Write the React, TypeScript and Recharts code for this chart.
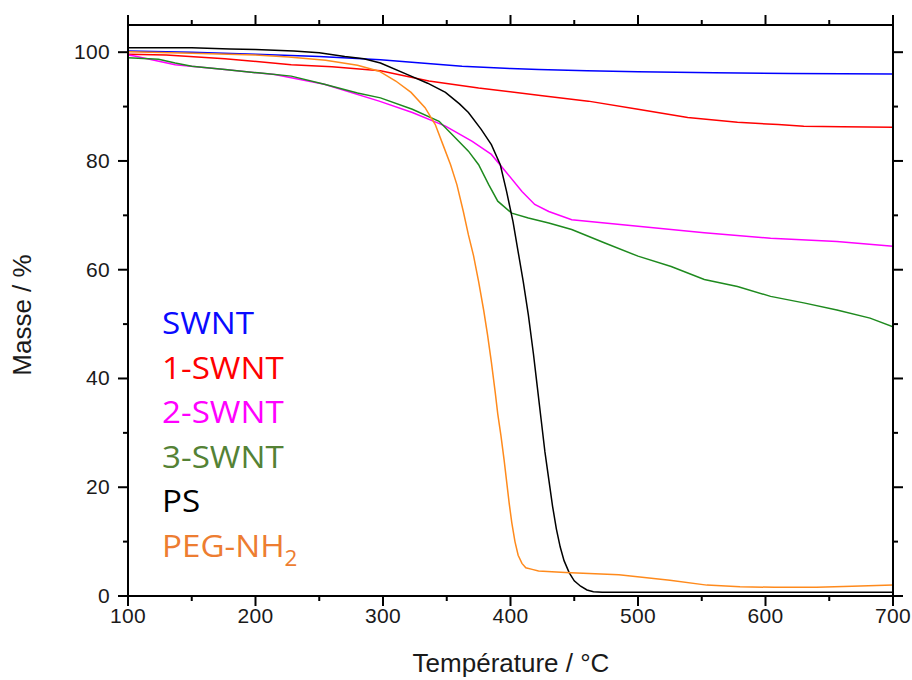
import React from "react";
import { LineChart, Line, XAxis, YAxis } from "recharts";

// TGA curves, mass (%) vs temperature (°C)
const swntT = [100, 150, 200, 250, 298, 330, 362, 400, 422, 460, 500, 560, 620, 700];
const swntM = [100.2, 100.0, 99.6, 99.2, 98.6, 98.0, 97.4, 97.0, 96.8, 96.6, 96.4, 96.2, 96.1, 96.0];

const swnt1T = [100, 130, 176, 228, 260, 298, 336, 375, 425, 461, 500, 539, 578, 610, 630, 660, 700];
const swnt1M = [99.6, 99.5, 98.8, 97.7, 97.3, 96.6, 94.7, 93.4, 92.0, 91.0, 89.5, 88.0, 87.1, 86.7, 86.4, 86.3, 86.2];

const swnt2T = [100, 105, 137, 176, 215, 254, 297, 323, 349, 370, 385, 396, 409, 419, 430, 448, 500, 552, 604, 656, 700];
const swnt2M = [99.5, 99.3, 97.7, 96.8, 95.9, 94.1, 91.0, 88.9, 86.4, 83.6, 81.2, 78.1, 74.4, 72.0, 70.7, 69.2, 68.0, 66.8, 65.8, 65.2, 64.3];

const swnt3T = [100, 124, 137, 150, 176, 202, 228, 254, 280, 298, 323, 344, 354, 367, 375, 383, 390, 401, 414, 430, 448, 474, 500, 526, 552, 578, 604, 630, 656, 682, 700];
const swnt3M = [99.0, 98.7, 98.0, 97.4, 96.8, 96.2, 95.6, 94.1, 92.5, 91.6, 89.5, 87.3, 84.9, 81.8, 79.3, 75.6, 72.6, 70.4, 69.5, 68.6, 67.4, 64.9, 62.5, 60.6, 58.2, 56.9, 55.1, 53.9, 52.6, 51.1, 49.5];

const psT = [100, 150, 180, 200, 230, 250, 270, 285, 298, 322, 335, 349, 360, 367, 377, 385, 392, 397, 402, 406, 410, 414, 418, 421, 424, 427, 430, 433, 436, 439, 442, 446, 450, 455, 460, 465, 472, 500, 600, 700];
const psM = [100.8, 100.8, 100.6, 100.5, 100.2, 99.9, 99.2, 98.8, 98.0, 95.6, 94.3, 92.6, 90.5, 88.9, 85.8, 83.0, 79.3, 74.3, 68.8, 63.3, 57.8, 51.7, 44.5, 38.5, 32.5, 26.5, 21.5, 16.5, 12.3, 9.0, 6.5, 4.3, 2.8, 1.8, 1.1, 0.8, 0.7, 0.7, 0.7, 0.7];

const pegT = [100, 150, 200, 226, 255, 280, 297, 310, 322, 333, 341, 347, 353, 358, 363, 367, 371, 375, 379, 382, 385, 388, 390, 392.5, 395, 397, 399, 401, 403.5, 406, 409, 412, 417, 422, 443, 485, 525, 554, 580, 607, 640, 668, 700];
const pegM = [100.1, 99.8, 99.5, 99.1, 98.5, 97.6, 96.5, 94.7, 92.6, 89.8, 86.7, 83.0, 79.3, 75.6, 70.7, 66.4, 62.6, 57.8, 52.5, 48.0, 43.0, 37.5, 33.5, 29.5, 25.0, 21.0, 17.0, 13.5, 10.0, 7.5, 6.0, 5.2, 4.9, 4.6, 4.3, 3.9, 2.9, 2.0, 1.7, 1.6, 1.6, 1.8, 2.0];

const xTicks = [100, 150, 200, 250, 300, 350, 400, 450, 500, 550, 600, 650, 700];
const yTicks = [0, 10, 20, 30, 40, 50, 60, 70, 80, 90, 100];

type Pt = { t: number; m: number };
const zip = (t: number[], m: number[]): Pt[] => t.map((v, i) => ({ t: v, m: m[i] }));

// the last series sits on the top/right axes (same domains) so the mirrored frame gets drawn
const series = [
  { key: "swnt", line: "#0000ff", data: zip(swntT, swntM), x: "bottom", y: "left" },
  { key: "swnt1", line: "#ff0000", data: zip(swnt1T, swnt1M), x: "bottom", y: "left" },
  { key: "swnt2", line: "#ff00ff", data: zip(swnt2T, swnt2M), x: "bottom", y: "left" },
  { key: "swnt3", line: "#1e8a1e", data: zip(swnt3T, swnt3M), x: "bottom", y: "left" },
  { key: "ps", line: "#000000", data: zip(psT, psM), x: "bottom", y: "left" },
  { key: "peg", line: "#ff8a1c", data: zip(pegT, pegM), x: "top", y: "right" },
];

const axisFont = "'Liberation Sans', Arial, sans-serif";
const textColor = "#1a1a1a";

function XTick(props: any) {
  const { x, y, payload, side } = props;
  const major = payload.value % 100 === 0;
  const len = major ? 10 : 5;
  const dir = side === "top" ? -1 : 1;
  return (
    <g>
      <line x1={x} x2={x} y1={y} y2={y + dir * len} stroke="#000" strokeWidth={2} />
      {side === "bottom" && major && (
        <text
          x={x}
          y={y + 27}
          textAnchor="middle"
          fontFamily={axisFont}
          fontSize={21}
          letterSpacing={0.3}
          fill={textColor}
        >
          {payload.value}
        </text>
      )}
    </g>
  );
}

function YTick(props: any) {
  const { x, y, payload, side } = props;
  const major = payload.value % 20 === 0;
  const len = major ? 10 : 5;
  const dir = side === "left" ? -1 : 1;
  return (
    <g>
      <line x1={x} x2={x + dir * len} y1={y} y2={y} stroke="#000" strokeWidth={2} />
      {side === "left" && major && (
        <text
          x={x - 18}
          y={y + 7}
          textAnchor="end"
          fontFamily={axisFont}
          fontSize={21}
          letterSpacing={0.3}
          fill={textColor}
        >
          {payload.value}
        </text>
      )}
    </g>
  );
}

const legend = [
  { label: "SWNT", color: "#0a0aff" },
  { label: "1-SWNT", color: "#ff0000" },
  { label: "2-SWNT", color: "#ff00ff" },
  { label: "3-SWNT", color: "#548235" },
  { label: "PS", color: "#000000" },
  { label: "PEG-NH", sub: "2", color: "#ed7d31" },
];

const frame = { stroke: "#000", strokeWidth: 2 };

export default function App() {
  return (
    <div style={{ position: "absolute", left: 0, top: 0, width: 912, height: 680, background: "#fff" }}>
      <LineChart width={912} height={680} margin={{ top: 24, right: 18, bottom: 44, left: 68 }}>
        <XAxis
          xAxisId="bottom"
          dataKey="t"
          type="number"
          domain={[100, 700]}
          allowDataOverflow
          ticks={xTicks}
          interval={0}
          height={40}
          tickSize={0}
          tickMargin={0}
          tickLine={false}
          stroke="#000"
          axisLine={frame}
          tick={<XTick side="bottom" />}
        />
        <XAxis
          xAxisId="top"
          orientation="top"
          dataKey="t"
          type="number"
          domain={[100, 700]}
          allowDataOverflow
          ticks={xTicks}
          interval={0}
          height={1}
          tickSize={0}
          tickMargin={0}
          tickLine={false}
          stroke="#000"
          axisLine={frame}
          tick={<XTick side="top" />}
        />
        <YAxis
          yAxisId="left"
          type="number"
          domain={[0, 105]}
          allowDataOverflow
          ticks={yTicks}
          interval={0}
          width={60}
          tickSize={0}
          tickMargin={0}
          tickLine={false}
          stroke="#000"
          axisLine={frame}
          tick={<YTick side="left" />}
        />
        <YAxis
          yAxisId="right"
          orientation="right"
          type="number"
          domain={[0, 105]}
          allowDataOverflow
          ticks={yTicks}
          interval={0}
          width={1}
          tickSize={0}
          tickMargin={0}
          tickLine={false}
          stroke="#000"
          axisLine={frame}
          tick={<YTick side="right" />}
        />
        {series.map((s) => (
          <Line
            key={s.key}
            xAxisId={s.x}
            yAxisId={s.y}
            data={s.data}
            dataKey="m"
            type="linear"
            stroke={s.line}
            strokeWidth={1.5}
            dot={false}
            activeDot={false}
            isAnimationActive={false}
          />
        ))}
      </LineChart>

      <div
        style={{
          position: "absolute",
          left: 511,
          top: 650,
          transform: "translateX(-50%)",
          fontFamily: axisFont,
          fontSize: 26,
          lineHeight: "26px",
          color: textColor,
          whiteSpace: "nowrap",
        }}
      >
        Température / °C
      </div>
      <div
        style={{
          position: "absolute",
          left: 22,
          top: 315,
          transform: "translate(-50%, -50%) rotate(-90deg)",
          fontFamily: axisFont,
          fontSize: 26,
          lineHeight: "26px",
          color: textColor,
          whiteSpace: "nowrap",
        }}
      >
        Masse / %
      </div>

      <div
        style={{
          position: "absolute",
          left: 162,
          top: 300,
          fontFamily: "'Open Sans', sans-serif",
          fontSize: 31,
          lineHeight: "44.5px",
          transform: "scaleX(1.07)",
          transformOrigin: "left top",
        }}
      >
        {legend.map((l) => (
          <div key={l.label} style={{ color: l.color, whiteSpace: "nowrap" }}>
            {l.label}
            {l.sub && <span style={{ fontSize: 21, position: "relative", top: 9 }}>{l.sub}</span>}
          </div>
        ))}
      </div>
    </div>
  );
}
